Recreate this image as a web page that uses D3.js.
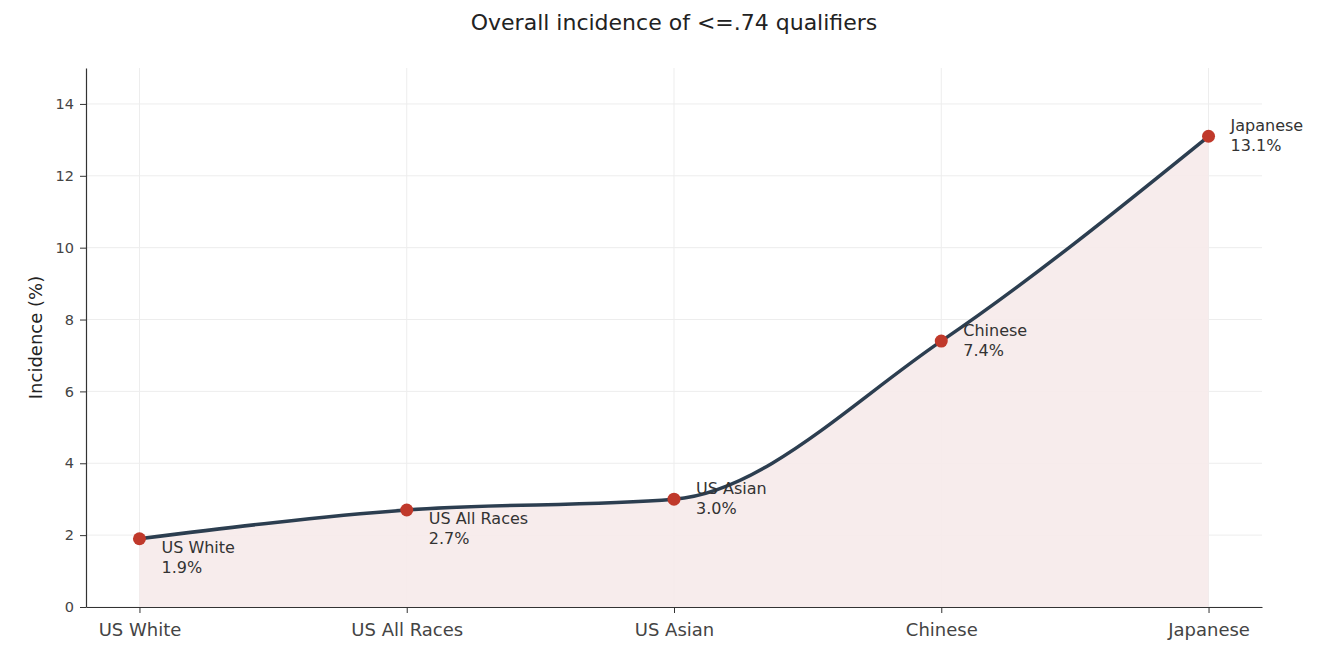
<!DOCTYPE html>
<html>
<head>
<meta charset="utf-8">
<script src="https://cdn.jsdelivr.net/npm/d3@7"></script>
<style>
    body { margin: 0; background: #fff; }
    svg { font-family: "DejaVu Sans", sans-serif; }
</style>
</head>
<body>
<div id="chart"></div>
<script>
// Chart data
const groups = ["US White", "US All Races", "US Asian", "Chinese", "Japanese"];
const incidence = [1.9, 2.7, 3.0, 7.4, 13.1];
const yTicks = [0, 2, 4, 6, 8, 10, 12, 14];

const W = 1342, H = 662;
let margin = { top: 68, right: 80, bottom: 55, left: 86 };
let width = W - margin.left - margin.right,
    height = H - margin.top - margin.bottom;

const svg = d3
    .select("#chart")
    .append("svg")
    .attr("width", W)
    .attr("height", H);

// Title
svg.append("text")
    .attr("x", 674)
    .attr("y", 30)
    .attr("text-anchor", "middle")
    .attr("font-size", 22)
    .attr("fill", "#222")
    .text("Overall incidence of <=.74 qualifiers");

const g = svg.append("g").attr("transform", "translate(" + margin.left + "," + margin.top + ")");

// Scales: categories sit on a linear index axis padded by 0.2 each side
let x = d3.scaleLinear().domain([-0.2, groups.length - 1 + 0.2]).range([0, width]);
let y = d3.scaleLinear().domain([0, 15]).range([height, 0]);

const data = groups.map((d, i) => ({ name: d, i: i, v: incidence[i] }));

// Grid
g.append("g")
    .selectAll("line")
    .data(yTicks)
    .enter()
    .append("line")
    .attr("x1", 0)
    .attr("x2", width)
    .attr("y1", (d) => y(d))
    .attr("y2", (d) => y(d))
    .attr("stroke", "#ededed")
    .attr("stroke-width", 1);

g.append("g")
    .selectAll("line")
    .data(data)
    .enter()
    .append("line")
    .attr("x1", (d) => x(d.i))
    .attr("x2", (d) => x(d.i))
    .attr("y1", 0)
    .attr("y2", height)
    .attr("stroke", "#ededed")
    .attr("stroke-width", 1);

// Area + line
const curve = d3.curveMonotoneX;
g.append("path")
    .datum(data)
    .attr("fill", "#f6eaea")
    .attr("fill-opacity", 0.9)
    .attr("d", d3.area().x((d) => x(d.i)).y0(y(0)).y1((d) => y(d.v)).curve(curve));

g.append("path")
    .datum(data)
    .attr("fill", "none")
    .attr("stroke", "#2c3e50")
    .attr("stroke-width", 3.5)
    .attr("stroke-linecap", "round")
    .attr("d", d3.line().x((d) => x(d.i)).y((d) => y(d.v)).curve(curve));

// Points
g.append("g")
    .selectAll("circle")
    .data(data)
    .enter()
    .append("circle")
    .attr("cx", (d) => x(d.i))
    .attr("cy", (d) => y(d.v))
    .attr("r", 6.5)
    .attr("fill", "#c0392b");

// Point labels: first two below-right, the rest beside the point
const labels = g.append("g").selectAll("text")
    .data(data)
    .enter()
    .append("text")
    .attr("font-size", 16)
    .attr("fill", "#333")
    .attr("x", (d) => x(d.i) + 22)
    .attr("y", (d) => y(d.v) + (d.i < 2 ? 14 : -5));
labels.append("tspan").text((d) => d.name);
labels.append("tspan")
    .attr("x", (d) => x(d.i) + 22)
    .attr("dy", 20)
    .text((d) => d.v.toFixed(1) + "%");

// Axes
const xAxis = g.append("g")
    .attr("transform", "translate(0," + height + ")")
    .call(d3.axisBottom(x).tickValues(d3.range(groups.length)).tickFormat((d) => groups[d]).tickSize(6).tickSizeOuter(0));
xAxis.selectAll("text").attr("font-size", 18).attr("fill", "#444").attr("dy", "1.1em");

const yAxis = g.append("g")
    .call(d3.axisLeft(y).tickValues(yTicks).tickSize(6).tickSizeOuter(0));
yAxis.selectAll("text").attr("font-size", 14.5).attr("fill", "#444").attr("x", -12);

[xAxis, yAxis].forEach((a) => {
    a.select(".domain").attr("stroke", "#333").attr("stroke-width", 1.2);
    a.selectAll(".tick line").attr("stroke", "#333");
    a.attr("font-family", null);
});

// Y label
svg.append("text")
    .attr("transform", "translate(42," + (margin.top + height / 2) + ") rotate(-90)")
    .attr("text-anchor", "middle")
    .attr("font-size", 18)
    .attr("fill", "#222")
    .text("Incidence (%)");
</script>
</body>
</html>
